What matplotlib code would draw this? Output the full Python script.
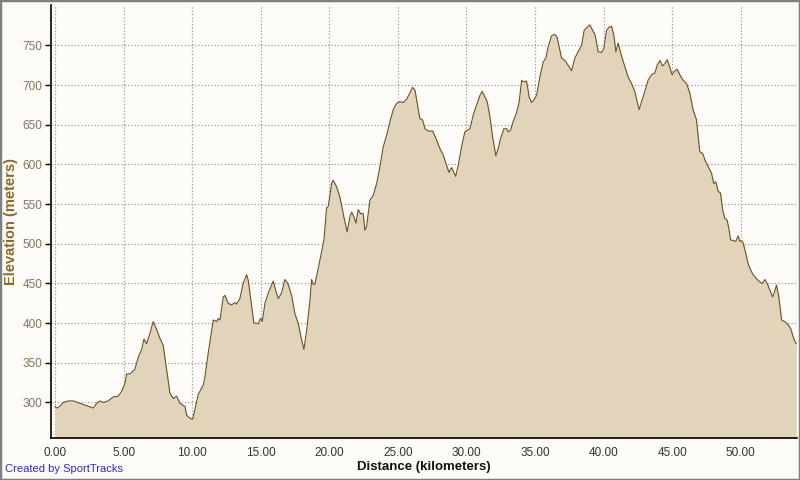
import matplotlib
matplotlib.use("Agg")
import matplotlib.pyplot as plt
from matplotlib.patches import Rectangle

# elevation profile
distance_km = [
    0.00, 0.12, 0.36, 0.60, 0.97, 1.33, 1.82, 2.31, 2.79, 3.04, 3.28, 3.52, 3.88, 4.25, 4.61, 4.86,
    5.10, 5.23, 5.47, 5.83, 6.07, 6.32, 6.49, 6.68, 6.92, 7.16, 7.41, 7.65, 7.89, 8.14, 8.38, 8.62,
    8.87, 9.11, 9.48, 9.60, 9.84, 10.04, 10.20, 10.44, 10.81, 10.93, 11.17, 11.42, 11.54, 11.79,
    11.90, 12.03, 12.27, 12.39, 12.63, 12.88, 13.12, 13.24, 13.48, 13.72, 13.97, 14.09, 14.34,
    14.50, 14.70, 14.82, 14.99, 15.11, 15.31, 15.55, 15.91, 16.11, 16.28, 16.52, 16.76, 17.00,
    17.25, 17.49, 17.73, 17.98, 18.15, 18.35, 18.59, 18.71, 18.83, 18.95, 19.19, 19.44, 19.61,
    19.80, 19.92, 20.17, 20.28, 20.53, 20.77, 21.06, 21.30, 21.50, 21.63, 21.79, 21.94, 22.11,
    22.28, 22.47, 22.59, 22.72, 22.96, 23.20, 23.45, 23.69, 23.93, 24.18, 24.42, 24.66, 24.91,
    25.15, 25.39, 25.63, 25.87, 26.07, 26.24, 26.41, 26.60, 26.80, 26.97, 27.21, 27.53, 27.82,
    28.06, 28.30, 28.55, 28.72, 28.91, 29.03, 29.21, 29.40, 29.64, 29.88, 30.05, 30.25, 30.49,
    30.74, 30.98, 31.14, 31.34, 31.51, 31.71, 31.90, 32.14, 32.31, 32.49, 32.73, 32.92, 33.04,
    33.21, 33.40, 33.65, 33.84, 34.02, 34.18, 34.38, 34.57, 34.74, 34.91, 35.11, 35.35, 35.59,
    35.79, 35.95, 36.20, 36.44, 36.61, 36.76, 36.93, 37.17, 37.41, 37.66, 37.90, 38.14, 38.39,
    38.58, 38.75, 38.99, 39.19, 39.38, 39.60, 39.85, 40.01, 40.21, 40.40, 40.58, 40.74, 40.89,
    41.06, 41.31, 41.55, 41.79, 42.03, 42.27, 42.44, 42.59, 42.76, 43.00, 43.24, 43.49, 43.73,
    43.90, 44.10, 44.29, 44.46, 44.63, 44.83, 44.99, 45.14, 45.36, 45.55, 45.79, 46.04, 46.28,
    46.52, 46.77, 46.89, 47.01, 47.21, 47.38, 47.62, 47.86, 48.03, 48.18, 48.35, 48.52, 48.67,
    48.83, 49.00, 49.15, 49.25, 49.44, 49.64, 49.80, 49.93, 50.05, 50.17, 50.36, 50.53, 50.71,
    50.90, 51.14, 51.38, 51.58, 51.75, 51.92, 52.11, 52.31, 52.43, 52.60, 52.77, 52.97, 53.21,
    53.45, 53.64, 53.81, 53.94, 54.05,
]
elevation_m = [
    295, 293, 295, 300, 302, 302, 299, 296, 293, 299, 302, 300, 302, 307, 308, 314,
    324, 336, 336, 342, 357, 367, 380, 374, 387, 402, 392, 381, 372, 341, 312, 305,
    308, 299, 295, 284, 280, 279, 291, 310, 322, 332, 362, 391, 404, 402,
    406, 404, 433, 435, 425, 423, 426, 424, 431, 450, 461, 454, 421,
    400, 400, 399, 406, 402, 425, 438, 453, 440, 431, 438, 455, 449,
    435, 412, 400, 379, 367, 391, 429, 455, 449, 449, 469, 490, 505,
    545, 547, 576, 580, 572, 559, 534, 515, 534, 540, 534, 526, 543,
    538, 538, 517, 522, 555, 561, 576, 597, 622, 637, 654, 669, 677,
    679, 678, 682, 690, 697, 694, 677, 658, 656, 645, 642, 642, 631,
    620, 612, 599, 590, 596, 592, 585, 599, 622, 641, 643, 645, 662,
    675, 687, 692, 685, 679, 660, 635, 611, 620, 633, 645, 645, 641,
    643, 654, 665, 679, 706, 704, 705, 685, 678, 681, 687, 710, 729,
    734, 748, 762, 764, 760, 748, 734, 731, 725, 718, 734, 742, 750,
    769, 772, 776, 769, 763, 742, 741, 746, 769, 773, 774, 763, 742,
    753, 736, 723, 710, 702, 692, 679, 669, 679, 692, 706, 713, 715,
    725, 731, 724, 727, 732, 722, 713, 717, 720, 713, 706, 702, 690,
    669, 656, 635, 616, 614, 606, 597, 589, 576, 578, 566, 564, 543,
    532, 530, 517, 505, 504, 503, 510, 503, 504, 501, 488, 475, 467,
    461, 456, 452, 450, 455, 450, 442, 433, 438, 448, 433, 404, 402,
    398, 393, 383, 377, 374,
]
x_ticks = [0, 5, 10, 15, 20, 25, 30, 35, 40, 45, 50]
y_ticks = [300, 350, 400, 450, 500, 550, 600, 650, 700, 750]

plt.rcParams['font.family'] = ['Liberation Sans', 'DejaVu Sans']

bg = '#FCFBF7'
fig = plt.figure(figsize=(8, 4.8), dpi=100, facecolor=bg)
ax = fig.add_axes([0.0634, 0.0869, 0.9326, 0.9027], facecolor=bg)

ax.fill_between(distance_km, elevation_m, 200, color='#E2D3BB', linewidth=0, zorder=2)
ax.plot(distance_km, elevation_m, color='#6E5020', linewidth=0.8, zorder=3)

ax.set_xlim(-0.31, 54.08)
ax.set_ylim(254.9, 800.9)
ax.set_xticks(x_ticks)
ax.set_xticklabels(['%.2f' % v for v in x_ticks])
ax.set_yticks(y_ticks)

ax.grid(True, color='#8C8C8C', linestyle=(0, (1, 2)), linewidth=0.8, zorder=4)
for s in ['top', 'right']:
    ax.spines[s].set_visible(False)
ax.spines['left'].set_linewidth(1.2)
ax.spines['bottom'].set_linewidth(1.2)
ax.spines['left'].set_zorder(5)
ax.spines['bottom'].set_zorder(5)

ax.tick_params(axis='y', length=4, width=1, colors='black', labelcolor='#85765A',
               labelsize=8.5, pad=2)
ax.tick_params(axis='x', length=0, labelcolor='#333333', labelsize=8.5, pad=6)

ax.set_xlabel('Distance (kilometers)', fontsize=9.5, fontweight='bold', color='#111111', labelpad=2)
ax.set_ylabel('Elevation (meters)', fontsize=10.5, fontweight='bold', color='#8A6A28', labelpad=3)

fig.text(0.006, 0.016, 'Created by SportTracks', fontsize=8, color='#2B2BC8')
fig.patches.append(Rectangle((0, 0), 1, 1, transform=fig.transFigure, fill=False,
                             edgecolor='#7F7F7F', linewidth=2.5))

fig.savefig('out.png', dpi=100, facecolor=bg)
